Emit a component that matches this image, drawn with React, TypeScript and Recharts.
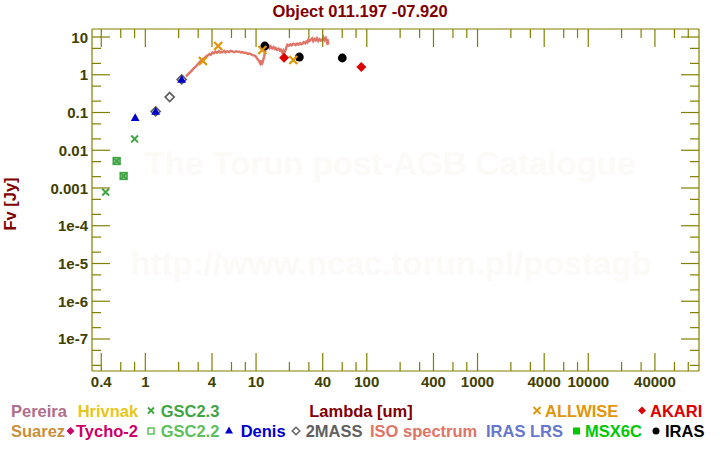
import React from "react";
import { ScatterChart, Scatter, XAxis, YAxis } from "recharts";

const TITLE = "Object 011.197 -07.920";
const X_LABEL = "Lambda [um]";
const Y_LABEL = "Fv [Jy]";

const xMajor = [0.4, 1, 4, 10, 40, 100, 400, 1000, 4000, 10000, 40000];
const xMinor = [0.6, 0.8, 2, 3, 6, 8, 20, 30, 60, 80, 200, 300, 600, 800, 2000, 3000, 6000, 8000, 20000, 30000, 60000, 80000];
const yMajor = [1e-7, 1e-6, 1e-5, 1e-4, 1e-3, 0.01, 0.1, 1, 10];
const yMajorLabels = ["1e-7", "1e-6", "1e-5", "1e-4", "0.001", "0.01", "0.1", "1", "10"];
const yMinor = [2e-8, 5e-8, 2e-7, 5e-7, 2e-6, 5e-6, 2e-5, 5e-5, 2e-4, 5e-4, 0.002, 0.005, 0.02, 0.05, 0.2, 0.5, 2, 5];

const xDomain = [0.33, 100000];
const yDomain = [1.42e-8, 16.3];

// ISO spectrum (um, Jy)
const isoWave = [2.33, 2.45, 2.6, 2.75, 2.87, 3.0, 3.15, 3.3, 3.45, 3.53, 3.65, 3.8, 3.9, 4.04, 4.15, 4.3, 4.45, 4.6, 4.75, 4.98, 5.15, 5.3, 5.5, 5.7, 5.9, 6.12, 6.35, 6.6, 6.85, 7.1, 7.3, 7.54, 7.8, 8.1, 8.4, 8.7, 8.97, 9.3, 9.6, 9.96, 10.2, 10.45, 10.66, 10.9, 11.1, 11.28, 11.5, 11.83, 12.1, 12.41, 12.7, 13.0, 13.3, 13.59, 14.0, 14.4, 14.8, 15.09, 15.5, 16.0, 16.4, 16.74, 17.2, 17.6, 18.0, 18.3, 18.8, 19.2, 19.8, 20.4, 21.0, 21.6, 22.1, 22.8, 23.5, 24.2, 25.0, 25.6, 26.2, 27.0, 27.8, 28.5, 29.1, 29.8, 30.5, 31.2, 32.0, 32.8, 33.6, 34.6, 35.5, 36.5, 37.5, 38.5, 39.7, 40.6, 41.5, 42.6, 43.5, 44.2, 44.9];
const isoFlux = [0.9, 1.05, 1.25, 1.5, 1.66, 1.95, 2.3, 2.55, 2.85, 3.06, 3.2, 3.55, 3.4, 3.9, 3.7, 4.1, 3.8, 4.2, 3.9, 4.0, 4.3, 3.9, 4.2, 4.0, 4.3, 4.16, 3.95, 4.2, 4.05, 4.1, 3.9, 4.0, 3.8, 3.85, 3.6, 3.65, 3.55, 3.3, 3.25, 3.06, 2.7, 2.5, 2.26, 2.0, 2.4, 1.85, 2.2, 3.06, 4.3, 5.64, 5.2, 5.8, 5.1, 5.64, 5.0, 5.4, 4.8, 5.11, 4.6, 4.9, 4.4, 4.61, 3.9, 4.4, 3.8, 4.16, 5.4, 6.25, 5.9, 6.4, 6.0, 6.6, 6.53, 6.1, 6.7, 6.3, 6.9, 6.4, 6.65, 7.3, 6.8, 7.6, 7.2, 8.6, 7.9, 8.48, 9.2, 7.8, 8.9, 8.13, 9.3, 7.9, 8.8, 8.0, 8.48, 9.8, 8.3, 9.41, 7.6, 8.8, 6.25];

const allwiseWave = [3.31, 4.55, 11.4, 21.7];
const allwiseFlux = [2.31, 5.78, 4.53, 2.46];
const irasWave = [12.0, 24.6, 60.1];
const irasFlux = [5.78, 2.95, 2.78];
const akariWave = [17.9, 89.2];
const akariFlux = [2.83, 1.6];
const denisWave = [0.81, 1.24, 2.13];
const denisFlux = [0.0728, 0.107, 0.753];
const twomassWave = [1.24, 1.66, 2.13];
const twomassFlux = [0.107, 0.257, 0.753];
const gsc23Wave = [0.438, 0.551, 0.637, 0.8];
const gsc23Flux = [0.00078, 0.00519, 0.00208, 0.0199];
const gsc22Wave = [0.551, 0.637];
const gsc22Flux = [0.00519, 0.00208];

const pts = (w: number[], f: number[]) => w.map((x, i) => ({ x, y: f[i] }));

const AXIS = "#808000";
const TICKTXT = "#404000";
const MAROON = "#800000";
const FONT = "'Liberation Sans', Arial, sans-serif";

const C = {
  pereira: "#b06e8c",
  hrivnak: "#e6c619",
  gsc23: "#3fa544",
  suarez: "#c8903c",
  tycho: "#cc0066",
  gsc22: "#5cc05c",
  denis: "#0000cc",
  twomass: "#606060",
  iso: "#e07466",
  lrs: "#6677cc",
  msx: "#00c800",
  iras: "#000000",
  allwise: "#e0960a",
  akari: "#dd0000",
};

const crossPath = (cx: number, cy: number, r: number) =>
  `M${cx - r},${cy - r}L${cx + r},${cy + r}M${cx - r},${cy + r}L${cx + r},${cy - r}`;
const diamondPath = (cx: number, cy: number, r: number) =>
  `M${cx},${cy - r}L${cx + r},${cy}L${cx},${cy + r}L${cx - r},${cy}Z`;
const triPath = (cx: number, cy: number, r: number) =>
  `M${cx},${cy - r}L${cx + r},${cy + r * 0.75}L${cx - r},${cy + r * 0.75}Z`;

const CrossShape = (color: string, r: number, sw: number) => (p: any) =>
  <path d={crossPath(p.cx, p.cy, r)} stroke={color} strokeWidth={sw} fill="none" />;
const DiamondShape = (color: string, r: number) => (p: any) =>
  <path d={diamondPath(p.cx, p.cy, r)} fill={color} />;
const OpenDiamondShape = (color: string, r: number) => (p: any) =>
  <path d={diamondPath(p.cx, p.cy, r)} fill="none" stroke={color} strokeWidth={1.7} />;
const TriShape = (color: string, r: number) => (p: any) =>
  <path d={triPath(p.cx, p.cy, r)} fill={color} />;
const CircleShape = (color: string, r: number) => (p: any) =>
  <circle cx={p.cx} cy={p.cy} r={r} fill={color} />;
const OpenSquareShape = (color: string, r: number) => (p: any) =>
  <rect x={p.cx - r} y={p.cy - r} width={2 * r} height={2 * r} fill={color} fillOpacity={0.55} stroke={color} strokeWidth={1.5} />;
const NoShape = () => <g />;

const BottomTick = (p: any) => {
  const v = p.payload.value;
  const major = xMajor.includes(v);
  return (
    <g>
      <line x1={p.x} x2={p.x} y1={p.y} y2={p.y - (major ? 18 : 9)} stroke={AXIS} strokeWidth={1.2} />
      {major && (
        <text x={p.x} y={p.y + 15.5} textAnchor="middle" fontFamily={FONT} fontWeight="bold" fontSize={15} fill={TICKTXT}>
          {String(v)}
        </text>
      )}
    </g>
  );
};
const TopTick = (p: any) => {
  const major = xMajor.includes(p.payload.value);
  return <line x1={p.x} x2={p.x} y1={p.y} y2={p.y + (major ? 18 : 9)} stroke={AXIS} strokeWidth={1.2} />;
};
const LeftTick = (p: any) => {
  const v = p.payload.value;
  const idx = yMajor.indexOf(v);
  const major = idx >= 0;
  return (
    <g>
      <line x1={p.x} x2={p.x + (major ? 18 : 9)} y1={p.y} y2={p.y} stroke={AXIS} strokeWidth={1.2} />
      {major && (
        <text x={p.x - 4} y={p.y + 5.5} textAnchor="end" fontFamily={FONT} fontWeight="bold" fontSize={15} fill={TICKTXT}>
          {yMajorLabels[idx]}
        </text>
      )}
    </g>
  );
};
const RightTick = (p: any) => {
  const major = yMajor.includes(p.payload.value);
  return <line x1={p.x} x2={p.x - (major ? 18 : 9)} y1={p.y} y2={p.y} stroke={AXIS} strokeWidth={1.2} />;
};

const xTicks = [...xMajor, ...xMinor].sort((a, b) => a - b);
const yTicks = [...yMajor, ...yMinor].sort((a, b) => a - b);

const LT = (props: { x: number; y: number; color: string; children: any }) => (
  <text x={props.x} y={props.y} fontFamily={FONT} fontWeight="bold" fontSize={16.5} fill={props.color}>
    {props.children}
  </text>
);

export default function App() {
  const r1 = 416.5;
  const r2 = 437;
  return (
    <div style={{ position: "absolute", left: 0, top: 0, width: 720, height: 450, background: "#fff" }}>
      <svg width={720} height={450} style={{ position: "absolute", left: 0, top: 0 }}>
        <text x={390} y={175} textAnchor="middle" fontFamily={FONT} fontWeight="bold" fontSize={33} fill="#fcfaf7">
          The Torun post-AGB Catalogue
        </text>
        <text x={391} y={275} textAnchor="middle" fontFamily={FONT} fontWeight="bold" fontSize={33} fill="#fcfaf7">
          http://www.ncac.torun.pl/postagb
        </text>
      </svg>
      <div style={{ position: "absolute", left: 0, top: 0 }}>
        <ScatterChart width={720} height={450} margin={{ top: 28, right: 20, bottom: 78, left: 91 }}>
          <XAxis xAxisId="b" type="number" dataKey="x" scale="log" domain={xDomain} allowDataOverflow ticks={xTicks} interval={0}
            orientation="bottom" height={1} tickSize={0} tickMargin={0} tickLine={false} tick={BottomTick} stroke={AXIS} strokeWidth={1.2} />
          <XAxis xAxisId="t" type="number" dataKey="x" scale="log" domain={xDomain} allowDataOverflow ticks={xTicks} interval={0}
            orientation="top" height={1} tickSize={0} tickMargin={0} tickLine={false} tick={TopTick} stroke={AXIS} strokeWidth={1.2} />
          <YAxis yAxisId="l" type="number" dataKey="y" scale="log" domain={yDomain} allowDataOverflow ticks={yTicks} interval={0}
            orientation="left" width={1} tickSize={0} tickMargin={0} tickLine={false} tick={LeftTick} stroke={AXIS} strokeWidth={1.2} />
          <YAxis yAxisId="r" type="number" dataKey="y" scale="log" domain={yDomain} allowDataOverflow ticks={yTicks} interval={0}
            orientation="right" width={1} tickSize={0} tickMargin={0} tickLine={false} tick={RightTick} stroke={AXIS} strokeWidth={1.2} />

          <Scatter xAxisId="b" yAxisId="l" data={pts(isoWave, isoFlux)} line={{ stroke: C.iso, strokeWidth: 2.4 }} shape={NoShape} isAnimationActive={false} />
          <Scatter xAxisId="b" yAxisId="l" data={pts(gsc22Wave, gsc22Flux)} shape={OpenSquareShape(C.gsc23, 3.4)} isAnimationActive={false} />
          <Scatter xAxisId="b" yAxisId="l" data={pts(gsc23Wave, gsc23Flux)} shape={CrossShape(C.gsc23, 3.4, 2)} isAnimationActive={false} />
          <Scatter xAxisId="b" yAxisId="l" data={pts(twomassWave, twomassFlux)} shape={OpenDiamondShape(C.twomass, 4.5)} isAnimationActive={false} />
          <Scatter xAxisId="b" yAxisId="l" data={pts(denisWave, denisFlux)} shape={TriShape(C.denis, 4.4)} isAnimationActive={false} />
          <Scatter xAxisId="b" yAxisId="l" data={pts(irasWave, irasFlux)} shape={CircleShape(C.iras, 4.4)} isAnimationActive={false} />
          <Scatter xAxisId="b" yAxisId="l" data={pts(allwiseWave, allwiseFlux)} shape={CrossShape(C.allwise, 4, 2.3)} isAnimationActive={false} />
          <Scatter xAxisId="b" yAxisId="l" data={pts(akariWave, akariFlux)} shape={DiamondShape(C.akari, 5)} isAnimationActive={false} />
        </ScatterChart>
      </div>
      <svg width={720} height={450} style={{ position: "absolute", left: 0, top: 0, pointerEvents: "none" }}>
        <text x={360} y={17} textAnchor="middle" fontFamily={FONT} fontWeight="bold" fontSize={16.5} fill={MAROON}>{TITLE}</text>
        <text x={361} y={r1} textAnchor="middle" fontFamily={FONT} fontWeight="bold" fontSize={16.5} fill={MAROON}>{X_LABEL}</text>
        <text transform="translate(15.5,204) rotate(-90)" textAnchor="middle" fontFamily={FONT} fontWeight="bold" fontSize={16.5} fill={MAROON}>{Y_LABEL}</text>

        <LT x={11} y={r1} color={C.pereira}>Pereira</LT>
        <LT x={77.7} y={r1} color={C.hrivnak}>Hrivnak</LT>
        <path d={crossPath(151, r1 - 6, 3)} stroke={C.gsc23} strokeWidth={1.8} />
        <LT x={160.7} y={r1} color={C.gsc23}>GSC2.3</LT>
        <path d={crossPath(537, r1 - 6, 3.5)} stroke={C.allwise} strokeWidth={1.8} />
        <LT x={545} y={r1} color={C.allwise}>ALLWISE</LT>
        <path d={diamondPath(642, r1 - 6, 4)} fill={C.akari} />
        <LT x={650} y={r1} color={C.akari}>AKARI</LT>

        <LT x={11} y={r2} color={C.suarez}>Suarez</LT>
        <path d={diamondPath(70.5, r2 - 6, 4)} fill={C.tycho} />
        <LT x={76} y={r2} color={C.tycho}>Tycho-2</LT>
        <rect x={148} y={r2 - 9} width={6} height={6} fill="none" stroke={C.gsc22} strokeWidth={1.5} />
        <LT x={160.7} y={r2} color={C.gsc22}>GSC2.2</LT>
        <path d={triPath(229, r2 - 6.5, 4)} fill={C.denis} />
        <LT x={240.7} y={r2} color={C.denis}>Denis</LT>
        <path d={diamondPath(296, r2 - 6, 3.8)} fill="none" stroke={C.twomass} strokeWidth={1.4} />
        <LT x={305.7} y={r2} color={C.twomass}>2MASS</LT>
        <LT x={370} y={r2} color={C.iso}>ISO spectrum</LT>
        <LT x={486} y={r2} color={C.lrs}>IRAS LRS</LT>
        <rect x={573} y={r2 - 9.5} width={7} height={7} fill={C.msx} />
        <LT x={585} y={r2} color={C.msx}>MSX6C</LT>
        <circle cx={656} cy={r2 - 6} r={3.5} fill={C.iras} />
        <LT x={665} y={r2} color={C.iras}>IRAS</LT>
      </svg>
    </div>
  );
}
